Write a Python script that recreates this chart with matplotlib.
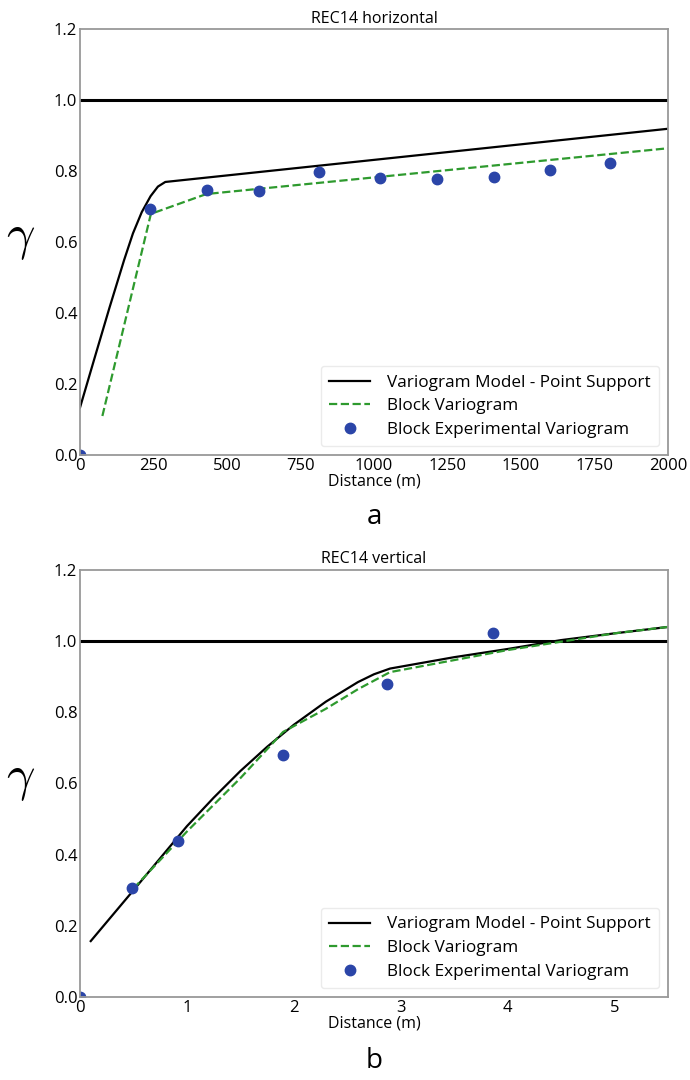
import numpy as np
import matplotlib.pyplot as plt

plt.rcParams['font.family'] = ['Open Sans', 'DejaVu Sans']
plt.rcParams['mathtext.fontset'] = 'cm'

# a) REC14 horizontal
h_model_x = [0, 50, 100, 150, 180, 210, 240, 265, 290, 2000]
h_model_y = [0.134, 0.275, 0.415, 0.55, 0.625, 0.685, 0.73, 0.757, 0.77, 0.92]
h_block_x = [76, 241, 430, 2000]
h_block_y = [0.11, 0.68, 0.736, 0.865]
h_exp_x = [0, 239, 431, 608, 812, 1022, 1213, 1408, 1598, 1803]
h_exp_y = [0.0, 0.694, 0.748, 0.744, 0.797, 0.78, 0.777, 0.785, 0.804, 0.824]

# b) REC14 vertical
v_model_x = [0.1, 0.5, 1.0, 1.25, 1.5, 1.75, 2.0, 2.3, 2.6, 2.75, 2.9, 3.5, 4.0, 4.5, 5.0, 5.5]
v_model_y = [0.157, 0.30, 0.48, 0.56, 0.635, 0.703, 0.765, 0.83, 0.885, 0.907, 0.923,
             0.955, 0.978, 1.003, 1.022, 1.04]
v_block_x = [0.5, 1.0, 1.5, 1.9, 2.3, 2.6, 2.9, 4.0, 5.0, 5.5]
v_block_y = [0.305, 0.465, 0.615, 0.745, 0.81, 0.865, 0.913, 0.975, 1.022, 1.04]
v_exp_x = [0, 0.49, 0.92, 1.9, 2.875, 3.86]
v_exp_y = [0.0, 0.305, 0.438, 0.68, 0.88, 1.023]

fig = plt.figure(figsize=(6.9, 10.8), dpi=100)
ax1 = fig.add_axes([0.116, 0.5787, 0.852, 0.394])
ax2 = fig.add_axes([0.116, 0.0769, 0.852, 0.3953])

panels = [
    (ax1, "REC14 horizontal", h_model_x, h_model_y, h_block_x, h_block_y,
     h_exp_x, h_exp_y, 2000, [0, 250, 500, 750, 1000, 1250, 1500, 1750, 2000]),
    (ax2, "REC14 vertical", v_model_x, v_model_y, v_block_x, v_block_y,
     v_exp_x, v_exp_y, 5.5, [0, 1, 2, 3, 4, 5]),
]

for ax, title, mx, my, bx, by, ex, ey, xmax, xt in panels:
    ax.axhline(1.0, color='black', lw=2.2)
    ax.plot(mx, my, '-', color='black', lw=1.6,
            label="Variogram Model - Point Support")
    ax.plot(bx, by, '--', color='#2e9a2e', lw=1.6, label="Block Variogram")
    ax.plot(ex, ey, 'o', color='#2b45a8', ms=7.5, ls='none',
            label="Block Experimental Variogram")
    ax.set_xlim(0, xmax)
    ax.set_ylim(0, 1.2)
    ax.set_xticks(xt)
    ax.set_yticks([0, 0.2, 0.4, 0.6, 0.8, 1.0, 1.2])
    ax.set_yticklabels(["0.0", "0.2", "0.4", "0.6", "0.8", "1.0", "1.2"])
    ax.tick_params(length=0, labelsize=12, pad=2)
    for s in ax.spines.values():
        s.set_color('#999999')
        s.set_linewidth(1.3)
    ax.set_title(title, fontsize=11.5, pad=5)
    ax.set_xlabel("Distance (m)", fontsize=11.5, labelpad=0)
    ax.legend(loc='lower right', fontsize=12.3, frameon=True,
              edgecolor='#e6e6e6', handlelength=2.4, handletextpad=1.0,
              borderpad=0.5, labelspacing=0.45)

fig.text(0.030, 0.780, r"$\gamma$", fontsize=36, ha='center', va='center')
fig.text(0.030, 0.279, r"$\gamma$", fontsize=36, ha='center', va='center')
fig.text(0.542, 0.521, "a", fontsize=20, ha='center', va='center')
fig.text(0.542, 0.018, "b", fontsize=20, ha='center', va='center')

plt.savefig("out.png", dpi=100)
